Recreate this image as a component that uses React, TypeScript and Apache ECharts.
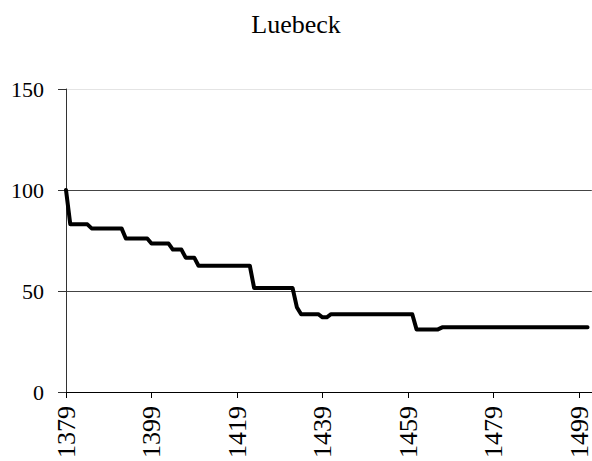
import React, { useEffect, useRef } from "react";
import * as echarts from "echarts";

const title = "Luebeck";

const years: string[] = [];
for (let y = 1379; y <= 1502; y++) years.push(String(y));

const values: number[] = [
  100,
  83, 83, 83, 83, 83,
  81, 81, 81, 81, 81, 81, 81, 81,
  76, 76, 76, 76, 76, 76,
  73.5, 73.5, 73.5, 73.5, 73.5,
  70.5, 70.5, 70.5,
  66.5, 66.5, 66.5,
  62.5, 62.5, 62.5, 62.5, 62.5, 62.5, 62.5, 62.5, 62.5, 62.5, 62.5, 62.5, 62.5,
  51.5, 51.5, 51.5, 51.5, 51.5, 51.5, 51.5, 51.5, 51.5, 51.5,
  42,
  38.5, 38.5, 38.5, 38.5, 38.5,
  37, 37,
  38.5, 38.5, 38.5, 38.5, 38.5, 38.5, 38.5, 38.5, 38.5, 38.5,
  38.5, 38.5, 38.5, 38.5, 38.5, 38.5, 38.5, 38.5, 38.5, 38.5,
  31, 31, 31, 31, 31, 31,
  32, 32, 32, 32, 32, 32, 32, 32, 32, 32,
  32, 32, 32, 32, 32, 32, 32, 32, 32, 32,
  32, 32, 32, 32, 32, 32, 32, 32, 32, 32,
  32, 32, 32, 32, 32,
];

const yMin = 0;
const yMax = 150;
const yInterval = 50;

const FONT = "'Liberation Serif', 'Times New Roman', serif";

export default function App() {
  const ref = useRef<HTMLDivElement>(null);
  useEffect(() => {
    if (!ref.current) return;
    const chart = echarts.init(ref.current, null, { renderer: "svg" });
    chart.setOption({
      animation: false,
      backgroundColor: "#ffffff",
      title: {
        text: title,
        left: "center",
        top: 6,
        textStyle: { fontFamily: FONT, fontSize: 26, fontWeight: "normal", color: "#000" },
      },
      grid: { left: 66, right: 0, top: 89, bottom: 69, containLabel: false },
      xAxis: {
        type: "category",
        data: years,
        boundaryGap: false,
        axisLine: { show: true, lineStyle: { color: "#000", width: 1 } },
        axisTick: { show: true, interval: 19, length: 6, lineStyle: { color: "#000" } },
        axisLabel: {
          interval: 19,
          rotate: 90,
          margin: 14,
          fontFamily: FONT,
          fontSize: 26,
          color: "#000",
        },
        splitLine: { show: false },
      },
      yAxis: {
        type: "value",
        min: yMin,
        max: yMax,
        interval: yInterval,
        axisLine: { show: true, lineStyle: { color: "#333", width: 1 } },
        axisTick: { show: true, length: 8, lineStyle: { color: "#333" } },
        axisLabel: { margin: 22, fontFamily: FONT, fontSize: 22, color: "#000" },
        splitLine: {
          show: true,
          lineStyle: { color: ["#444", "#444", "#444", "#e4e4e4"], width: 1 },
        },
      },
      series: [
        {
          type: "line",
          data: values,
          showSymbol: false,
          symbol: "none",
          lineStyle: { color: "#000", width: 4, cap: "round", join: "round" },
        },
      ],
    });
    return () => chart.dispose();
  }, []);
  return (
    <div
      ref={ref}
      style={{ position: "fixed", left: 0, top: 0, width: 592, height: 461 }}
    />
  );
}
